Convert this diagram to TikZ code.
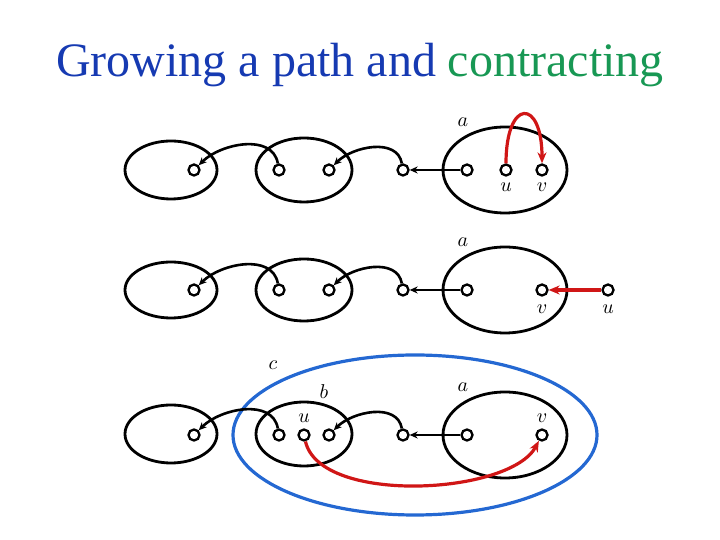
\documentclass[tikz,border=0pt]{standalone}
\usepackage{xcolor}
\usepackage{fontspec}
\setmainfont{Liberation Serif}
\usepackage{tikz}
\usetikzlibrary{positioning,arrows.meta,calc}
\definecolor{titleblue}{RGB}{22, 58, 178}
\definecolor{titlegreen}{RGB}{24, 152, 84}
\definecolor{pathred}{RGB}{208, 22, 22}
\definecolor{blobblue}{RGB}{36, 104, 210}

\begin{document}
\begin{tikzpicture}[x=1pt, y=1pt,
        vert/.style={circle, draw, line width=2.3pt, fill=white, inner sep=0pt, minimum size=11pt},
        grp/.style={draw, line width=2.8pt},
        link/.style={line width=2.6pt, -{Stealth[length=8pt,width=7pt]}},
        hop/.style={draw=pathred, line width=3.2pt, -{Stealth[length=11pt,width=9pt]}},
        lbl/.style={scale=2, transform shape, inner sep=1pt}]
        \useasboundingbox (0,0) rectangle (720,540);

        \node[anchor=base, font=\fontsize{48}{52}\selectfont] (title) at (360,463)
            {\textcolor{titleblue}{Growing a path and} \textcolor{titlegreen}{contracting}};

        % first row
        \draw[grp] (171,370) ellipse [x radius=46, y radius=29];
        \draw[grp] (304,370) ellipse [x radius=48, y radius=32];
        \draw[grp] (505,370) ellipse [x radius=62, y radius=43];
        \node[vert] (r1p1) at (194,370) {};
        \node[vert] (r1p2) at (279,370) {};
        \node[vert] (r1p3) at (329,370) {};
        \node[vert] (r1p4) at (403,370) {};
        \node[vert] (r1a) at (467,370) {};
        \node[vert] (r1u) at (506,370) {};
        \node[vert] (r1v) at (542,370) {};
        \node[lbl] (r1la) at (463,418) {$a$};
        \node[lbl] (r1lu) at (506,353) {$u$};
        \node[lbl] (r1lv) at (542,353) {$v$};
        \draw[link] (r1p2) to[out=100, in=45] (r1p1);
        \draw[link] (r1p4) to[out=100, in=45] (r1p3);
        \draw[link] (r1a) -- (r1p4);
        \draw[hop] (r1u) .. controls +(0,72) and +(0,72) .. (r1v);

        % second row
        \draw[grp] (171,250) ellipse [x radius=46, y radius=28];
        \draw[grp] (304,250) ellipse [x radius=48, y radius=31];
        \draw[grp] (505,250) ellipse [x radius=62, y radius=43];
        \node[vert] (r2p1) at (194,250) {};
        \node[vert] (r2p2) at (279,250) {};
        \node[vert] (r2p3) at (329,250) {};
        \node[vert] (r2p4) at (403,250) {};
        \node[vert] (r2a) at (467,250) {};
        \node[vert] (r2v) at (542,250) {};
        \node[vert] (r2u) at (608,250) {};
        \node[lbl] (r2la) at (463,298) {$a$};
        \node[lbl] (r2lv) at (542,231) {$v$};
        \node[lbl] (r2lu) at (608,231) {$u$};
        \draw[link] (r2p2) to[out=100, in=45] (r2p1);
        \draw[link] (r2p4) to[out=100, in=45] (r2p3);
        \draw[link] (r2a) -- (r2p4);
        \draw[hop] (r2u) -- (r2v);

        % third row, after contracting
        \draw[draw=blobblue, line width=3.2pt] (415,105) ellipse [x radius=182, y radius=80];
        \draw[grp] (171,106) ellipse [x radius=46, y radius=29];
        \draw[grp] (304,106) ellipse [x radius=48, y radius=32];
        \draw[grp] (505,105) ellipse [x radius=62, y radius=43];
        \node[vert] (r3p1) at (194,105) {};
        \node[vert] (r3p2) at (279,105) {};
        \node[vert] (r3u) at (304,105) {};
        \node[vert] (r3p3) at (329,105) {};
        \node[vert] (r3p4) at (403,105) {};
        \node[vert] (r3a) at (467,105) {};
        \node[vert] (r3v) at (542,105) {};
        \node[lbl] (r3la) at (463,153) {$a$};
        \node[lbl] (r3lb) at (324,148) {$b$};
        \node[lbl] (r3lc) at (273,175) {$c$};
        \node[lbl] (r3lu) at (304,122) {$u$};
        \node[lbl] (r3lv) at (542,122) {$v$};
        \draw[link] (r3p2) to[out=100, in=45] (r3p1);
        \draw[link] (r3p4) to[out=100, in=45] (r3p3);
        \draw[link] (r3a) -- (r3p4);
        \draw[hop] (r3u) .. controls (320,35) and (510,45) .. (r3v);
\end{tikzpicture}
\end{document}
